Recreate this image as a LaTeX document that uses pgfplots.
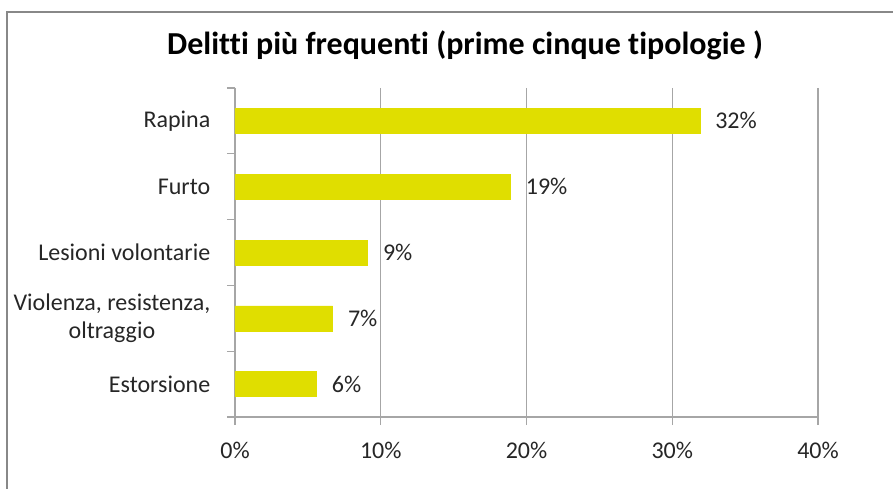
\documentclass[border=0pt]{standalone}
\usepackage{pgfplots}
\pgfplotsset{compat=1.18}
\usepackage{fontspec}
\setmainfont{Carlito}[Ligatures={NoCommon}]
\definecolor{baryellow}{RGB}{224,222,0}
\definecolor{gridgray}{RGB}{166,166,166}
\definecolor{framegray}{RGB}{136,136,136}
\definecolor{txt}{RGB}{38,38,38}
\pgfplotstableread{
y val
1 31.9
2 18.9
3 9.1
4 6.7
5 5.6
}\datatable
\begin{document}
\begin{tikzpicture}
\path[use as bounding box] (0,0) rectangle (669.75pt,366.75pt);
\draw[framegray, line width=1.2pt] (5.25pt,0) -- (5.25pt,357.75pt) -- (669.75pt,357.75pt);
\node[font=\fontsize{24}{28}\selectfont\bfseries, text=black] at (348.75pt,333pt) {Delitti più frequenti (prime cinque tipologie )};
\begin{axis}[
  at={(176.25pt,54pt)}, anchor=south west,
  width=437.25pt, height=246.75pt, scale only axis,
  xmin=0, xmax=40, ymin=0.5, ymax=5.5,
  y dir=reverse,
  axis x line*=bottom, axis y line*=left,
  axis line style={gridgray, line width=0.9pt, -},
  /pgf/number format/assume math mode=true,
  xtick={0,10,20,30,40},
  xticklabels={0\%,10\%,20\%,30\%,40\%},
  ytick={1,2,3,4,5},
  yticklabels={Rapina,Furto,Lesioni volontarie,{Violenza, resistenza,\\oltraggio},Estorsione},
  minor ytick={0.5,1.5,2.5,3.5,4.5,5.5},
  every major y tick/.style={draw=none},
  tick align=outside,
  major tick length=6pt, minor tick length=6pt,
  tick style={gridgray, line width=0.9pt},
  xmajorgrids, major grid style={gridgray, line width=0.9pt},
  ticklabel style={font=\fontsize{18}{21}\selectfont, text=txt},
  yticklabel style={align=center, xshift=-9pt},
  xticklabel style={yshift=-9pt},
  xbar, bar width=18.75pt,
  nodes near coords={\pgfmathprintnumber[fixed,precision=0]{\pgfplotspointmeta}\%},
  every node near coord/.append style={font=\fontsize{18}{20}\selectfont, text=txt, anchor=west, xshift=8pt},
  clip=false,
]
\addplot[fill=baryellow, draw=baryellow] table[x=val, y=y] {\datatable};
\end{axis}
\end{tikzpicture}
\end{document}
